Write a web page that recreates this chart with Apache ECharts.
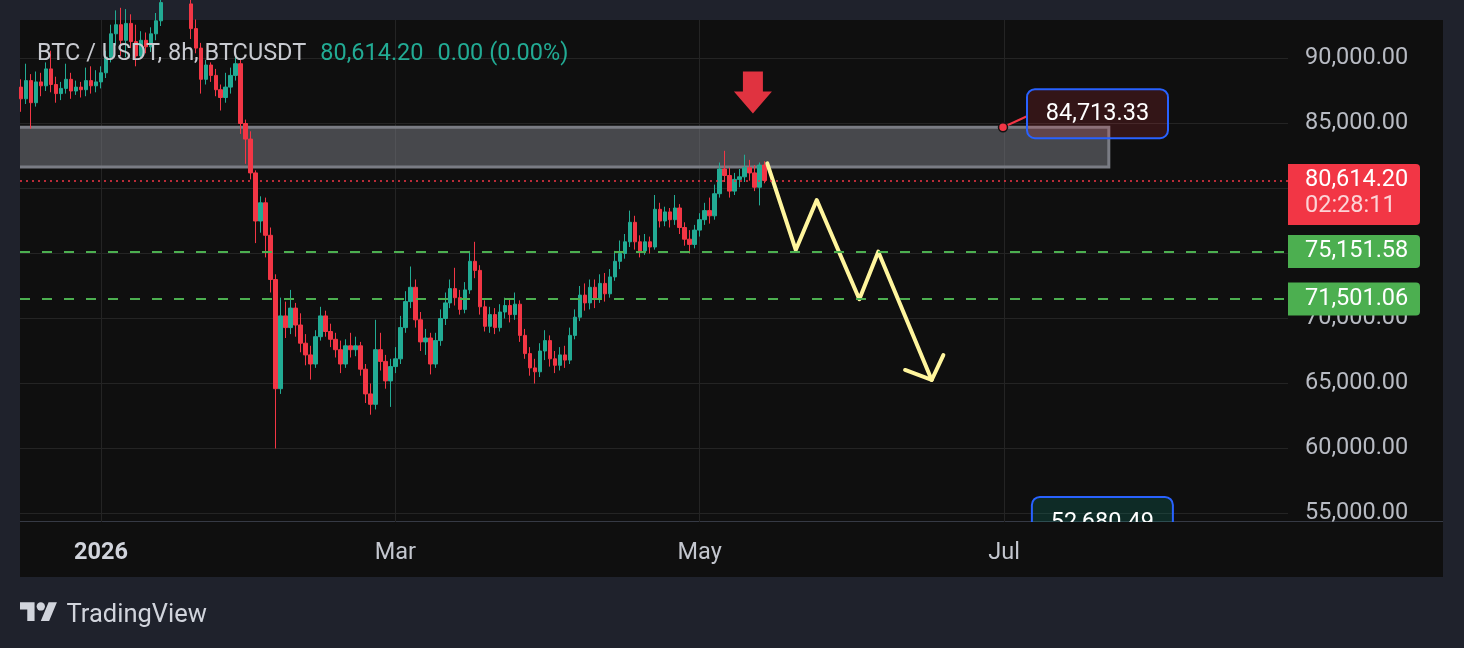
<!DOCTYPE html>
<html>
<head>
<meta charset="utf-8">
<title>BTC / USDT, 8h</title>
<script src="https://cdn.jsdelivr.net/npm/echarts@6.0.0/dist/echarts.min.js"></script>
<style>
html,body{margin:0;padding:0;width:1464px;height:648px;overflow:hidden;background:#1f222c;font-family:Roboto,'Noto Sans',sans-serif;}
#panel{position:absolute;left:20px;top:20px;width:1423px;height:557px;background:#0f0f0f;}
#sep{position:absolute;left:20px;top:521px;width:1423px;height:1px;background:#363a45;}
#chart{position:absolute;left:0;top:0;width:1464px;height:648px;}
#brand{position:absolute;left:0;top:596px;}
</style>
</head>
<body>
<div id="panel"></div>
<div id="sep"></div>
<div id="chart"></div>
<svg id="brand" width="260" height="36">
  <g transform="translate(20,2.14) scale(1.04)" fill="#d1d4dc">
    <path d="M14 22H7V11H0V4h14v18zM28 22h-8l7.5-18h8L28 22z"/>
    <circle cx="20" cy="8" r="4"/>
  </g>
  <text x="66.5" y="25.7" font-family="Roboto" font-size="25.5" fill="#d1d4dc">TradingView</text>
</svg>
<script>
// ---------------- data ----------------
const candleStart = '2025-12-16';           // first daily candle
const opens = [
  87800,86900,88300,86600,88200,87900,89200,88000,87300,87700,88400,87500,87800,87600,88300,87900,
  88200,88900,90100,91900,92600,91400,92700,91300,90200,91400,90900,91900,92900,94300,95600,96900,95800,95000,94200,92300,90800,88400,89500,88700,87600,87000,87800,88700,89600,85000,83800,
  81200,77500,78900,76400,73000,64600,70200,69300,70800,69500,68100,67200,66500,68600,70200,69000,68400,67600,66500,67900,67600,67900,66100,64200,63400,67600,66700,65200,
  66300,66900,69300,71300,72400,69900,68200,68500,66500,68300,70000,71200,72300,71600,70700,72200,74400,73700,70900,69400,70300,69300,70500,71000,70300,71100,68700,67300,66200,65900,67500,
  68300,66900,66400,67200,66800,68700,70100,71800,71200,72400,71500,72700,71900,73200,74400,75000,75900,77400,75900,75200,75900,75500,78400,77500,78200,77600,78500,77000,76100,75700,
  76800,77600,78300,77900,79600,81500,81000,79800,80700,80900,81600,81200,80100,81800
];
const closes = [
  86900,88300,86600,88200,87900,89200,88000,87300,87700,88400,87500,87800,87600,88300,87900,88200,
  88900,90100,91900,92600,91400,92700,91300,90200,91400,90900,91900,92900,94300,95600,96900,95800,95000,94200,92300,90800,88400,89500,88700,87600,87000,87800,88700,89600,85000,83800,81200,
  77500,78900,76400,73000,64600,70200,69300,70800,69500,68100,67200,66500,68600,70200,69000,68400,67600,66500,67900,67600,67900,66100,64200,63400,67600,66700,65200,66300,
  66900,69300,71300,72400,69900,68200,68500,66500,68300,70000,71200,72300,71600,70700,72200,74400,73700,70900,69400,70300,69300,70500,71000,70300,71100,68700,67300,66200,65900,67500,68300,
  66900,66400,67200,66800,68700,70100,71800,71200,72400,71500,72700,71900,73200,74400,75000,75900,77400,75900,75200,75900,75500,78400,77500,78200,77600,78500,77000,76100,75700,76800,
  77600,78300,77900,79600,81500,81000,79800,80700,80900,81600,81200,80100,81800,80614.20
];
const lows = [
  85900,86500,84600,86300,87100,87500,87400,86600,86800,87300,86900,87200,87000,87100,87300,87400,
  87700,88500,89700,91000,90200,90100,90800,89400,90000,90400,90500,91400,92500,93600,95000,95000,94200,93300,91500,90400,87300,88000,88200,87100,86000,86600,87300,88300,84200,81900,80700,
  75800,76600,74700,72000,60000,64200,68500,68800,68600,67400,66400,65300,66200,68300,68600,67800,67000,65800,66200,67000,67100,65600,63500,62600,63000,66000,64600,63200,
  65800,66500,68900,70800,69300,67500,67200,65700,66200,67900,69500,70800,71000,70300,70400,71900,73100,70300,69000,68900,68800,69000,70000,69700,69900,68200,66900,65600,65000,65500,66800,
  66300,65800,66000,66200,66500,68400,69800,70600,70700,70800,71200,71300,71600,72900,73800,74600,75500,75300,74700,74900,75000,75300,77000,77100,77000,77200,76500,75600,75000,75400,
  76300,77200,77300,77600,79300,80500,79300,79500,80100,80500,80600,79800,78700,80400
];
const highs = [
  88400,89600,88800,89000,88900,89700,90600,88600,88200,89600,88900,88300,88200,89300,89400,89100,
  89400,90600,92600,93700,93900,93800,93400,92600,92100,92000,92400,93500,95000,96300,97600,97300,96200,95500,94600,93000,91200,89900,89700,89200,88000,88900,89300,90400,89900,85300,84400,
  81400,79400,79300,77000,73400,71600,71300,72200,71200,70400,68800,67900,69100,70900,70600,69600,68900,68300,68400,68900,68600,68200,66500,65000,69900,68900,67200,66900,
  67800,70200,72100,74000,73000,70500,69200,68900,68900,70700,72000,73000,73900,72200,72800,75200,75900,74100,71400,70900,70800,71100,71600,71500,72000,71400,69200,67800,66900,68100,69100,
  68700,67500,67800,67900,69300,70700,72500,72700,73000,73000,73400,73500,73800,75200,76000,76500,78300,77900,76400,76500,76300,79500,78900,78600,78500,79500,78800,77400,76800,77200,
  78100,78900,79300,80300,82000,82900,81600,81200,81500,82600,82200,81800,82000,82100
];

const lastPrice = 80614.20;
const countdown = '02:28:11';
const changeText = '0.00 (0.00%)';
const titleText = 'BTC / USDT, 8h, BTCUSDT';
const supportLevels = [75151.58, 71501.06];

const priceTicks = [55000, 60000, 65000, 70000, 75000, 80000, 85000, 90000];
const timeTicks = ['2026-01-01T00:00', '2026-03-01T00:00', '2026-05-01T00:00', '2026-07-01T00:00'];
const monthNames = ['Jan','Feb','Mar','Apr','May','Jun','Jul','Aug','Sep','Oct','Nov','Dec'];

// resistance zone
const zoneStart = '2025-12-01T00:00', zoneEnd = '2026-07-22T00:00';
const zoneTop = 84713.33, zoneBottom = 81654;

// projected path (drawn annotation)
const pathTimes  = ['2026-05-14T13:00','2026-05-20T06:00','2026-05-24T11:00','2026-06-02T00:00','2026-06-05T19:00','2026-06-16T12:00'];
const pathPrices = [81940, 75270, 79110, 71480, 75140, 65270];
const headTimes  = ['2026-06-11T04:00','2026-06-16T12:00','2026-06-18T20:00'];
const headPrices = [66040, 65270, 67190];

// sell signal arrow
const signalTime = '2026-05-11T16:00', signalPrice = 87385;

// price notes
const noteTimes  = ['2026-06-30T19:00', '2026-07-06T14:00'];
const notePrices = [84713.33, 52680.49];

// axis window
const viewStart = '2025-12-15T18:20', viewEnd = '2026-08-26T22:00';
const priceMin = 54346, priceMax = 92962;

// ---------------- helpers ----------------
function ts(s) {
  const [d, tm = '00:00'] = s.split('T');
  const [y, m, dd] = d.split('-').map(Number);
  const [hh, mi] = tm.split(':').map(Number);
  return new Date(y, m - 1, dd, hh, mi).getTime();
}
function fmt(v) {
  return v.toLocaleString('en-US', {minimumFractionDigits: 2, maximumFractionDigits: 2});
}
const FONT = '23.5px Roboto';
const base = new Date(ts(candleStart));
const dates = opens.map((_, i) => new Date(base.getFullYear(), base.getMonth(), base.getDate() + i).getTime());
const candles = dates.map((d, i) => [d, opens[i], closes[i], lows[i], highs[i]]);

const priceTags = [
  {price: lastPrice, text: fmt(lastPrice), sub: countdown, color: '#f23645'},
  {price: supportLevels[0], text: fmt(supportLevels[0]), color: '#4caf50'},
  {price: supportLevels[1], text: fmt(supportLevels[1]), color: '#4caf50'}
];
const lastTime = dates[dates.length - 1];

// ---------------- chart ----------------
const chart = echarts.init(document.getElementById('chart'), null, {renderer: 'canvas'});
chart.setOption({
  animation: false,
  backgroundColor: 'transparent',
  textStyle: {fontFamily: 'Roboto'},
  title: {
    left: 37, top: 40, padding: 0,
    text: '{a|' + titleText + '}{b|' + fmt(lastPrice) + '}{b|' + changeText + '}',
    textStyle: {
      fontWeight: 'normal',
      rich: {
        a: {color: '#c8cad0', fontSize: 23.5, fontFamily: 'Roboto', fontWeight: 'normal', lineHeight: 28},
        b: {color: '#22ab94', fontSize: 23.5, fontFamily: 'Roboto', fontWeight: 'normal', lineHeight: 28, padding: [0, 0, 0, 14]}
      }
    }
  },
  grid: {left: 20, right: 176, top: 20, bottom: 126, containLabel: false, outerBoundsMode: 'none'},
  xAxis: {
    type: 'value',
    min: ts(viewStart), max: ts(viewEnd),
    axisLine: {show: false},
    axisTick: {show: false, customValues: timeTicks.map(ts)},
    splitLine: {show: true, lineStyle: {color: '#242424', width: 1}},
    axisLabel: {
      customValues: timeTicks.map(ts),
      margin: 19,
      color: '#c3c6ce',
      fontSize: 23.5,
      fontFamily: 'Roboto',
      formatter: function (v) {
        const d = new Date(v);
        if (d.getMonth() === 0) return '{y|' + d.getFullYear() + '}';
        return monthNames[d.getMonth()];
      },
      rich: {y: {fontWeight: 'bold', color: '#d1d4dc', fontSize: 23.5, fontFamily: 'Roboto'}}
    }
  },
  yAxis: {
    type: 'value', position: 'right',
    min: priceMin, max: priceMax, scale: true,
    axisLine: {show: false},
    axisTick: {show: false, customValues: priceTicks},
    splitLine: {show: true, lineStyle: {color: '#242424', width: 1}},
    axisLabel: {
      customValues: priceTicks,
      margin: 17, color: '#b8bbc3', fontSize: 23.5, fontFamily: 'Roboto',
      formatter: v => fmt(v)
    }
  },
  series: [
    {
      name: 'zone', type: 'custom', z: 1, clip: true, silent: true,
      data: [[ts(zoneStart), zoneTop, ts(zoneEnd), zoneBottom]],
      encode: {x: [0, 2], y: [1, 3]},
      renderItem: function (params, api) {
        const p1 = api.coord([api.value(0), api.value(1)]);
        const p2 = api.coord([api.value(2), api.value(3)]);
        return {
          type: 'rect',
          shape: {x: p1[0], y: p1[1], width: p2[0] - p1[0], height: p2[1] - p1[1]},
          style: {fill: 'rgba(118,120,128,0.55)', stroke: '#7a7c84', lineWidth: 3}
        };
      }
    },
    {
      name: 'BTCUSDT', type: 'candlestick', z: 2,
      data: candles,
      encode: {x: 0, y: [1, 2, 3, 4]},
      barWidth: 4,
      itemStyle: {color: '#22ab94', color0: '#f23645', borderColor: '#22ab94', borderColor0: '#f23645', borderWidth: 1},
      markLine: {
        silent: true, symbol: ['none', 'none'], label: {show: false},
        data: [
          {yAxis: lastPrice, lineStyle: {color: '#f23645', type: [2, 4], width: 1.5}},
          {yAxis: supportLevels[0], lineStyle: {color: '#4caf50', type: [10, 12], width: 2}},
          {yAxis: supportLevels[1], lineStyle: {color: '#4caf50', type: [10, 12], width: 2}}
        ]
      }
    },
    {
      name: 'path', type: 'line', z: 4, silent: true,
      data: pathTimes.map((t, i) => [ts(t), pathPrices[i]]),
      showSymbol: false, symbol: 'none',
      lineStyle: {color: '#fff59d', width: 4, join: 'round', cap: 'round'}
    },
    {
      name: 'pathHead', type: 'line', z: 4, silent: true,
      data: headTimes.map((t, i) => [ts(t), headPrices[i]]),
      showSymbol: false, symbol: 'none',
      lineStyle: {color: '#fff59d', width: 4, join: 'round', cap: 'round'}
    },
    {
      name: 'signal', type: 'scatter', z: 5, silent: true,
      data: [[ts(signalTime), signalPrice]],
      symbol: 'path://M9,0L29,0L29,20L38,20L19,42L0,20L9,20Z',
      symbolSize: [38, 42],
      itemStyle: {color: '#e03340', opacity: 1}
    },
    {
      name: 'notes', type: 'custom', z: 6, clip: true, silent: true,
      data: noteTimes.map((t, i) => [ts(t), notePrices[i], i]),
      encode: {x: 0, y: 1},
      renderItem: function (params, api) {
        const p = api.coord([api.value(0), api.value(1)]);
        const kind = api.value(2);
        const txt = fmt(api.value(1));
        if (kind === 0) {
          const bx = p[0] + 24, by = p[1] - 38;
          return {type: 'group', children: [
            {type: 'line', shape: {x1: p[0], y1: p[1], x2: bx, y2: p[1] - 11}, style: {stroke: '#f23645', lineWidth: 2}},
            {type: 'rect', shape: {x: bx, y: by, width: 141, height: 49, r: 8},
             style: {fill: 'rgba(242,54,69,0.16)', stroke: '#2962ff', lineWidth: 2}},
            {type: 'text', style: {text: txt, x: bx + 70.5, y: by + 24.5, fill: '#ffffff', font: FONT, align: 'center', verticalAlign: 'middle'}},
            {type: 'circle', shape: {cx: p[0], cy: p[1], r: 4.5}, style: {fill: '#f23645', stroke: '#141414', lineWidth: 1.5}}
          ]};
        }
        const bx = p[0], by = p[1] - 46.7;
        return {type: 'group', children: [
          {type: 'rect', shape: {x: bx, y: by, width: 141, height: 49, r: 8},
           style: {fill: 'rgba(8,153,129,0.2)', stroke: '#2962ff', lineWidth: 2}},
          {type: 'text', style: {text: txt, x: bx + 70.5, y: by + 26, fill: '#ffffff', font: FONT, align: 'center', verticalAlign: 'middle'}}
        ]};
      }
    },
    {
      name: 'priceTags', type: 'custom', z: 10, clip: false, silent: true,
      data: priceTags.map(t => [lastTime, t.price]),
      encode: {x: 0, y: 1},
      renderItem: function (params, api) {
        const tag = priceTags[params.dataIndex];
        const cs = params.coordSys;
        const y = api.coord([api.value(0), api.value(1)])[1];
        const x0 = cs.x + cs.width;
        const h = tag.sub ? 61 : 33;
        const children = [
          {type: 'rect', shape: {x: x0, y: y - 16.5, width: 132, height: h, r: [0, 4, 4, 0]}, style: {fill: tag.color}},
          {type: 'text', style: {text: tag.text, x: x0 + 17, y: y, fill: '#ffffff', font: FONT, align: 'left', verticalAlign: 'middle'}}
        ];
        if (tag.sub) {
          children.push({type: 'text', style: {text: tag.sub, x: x0 + 17, y: y + 26, fill: 'rgba(255,255,255,0.78)', font: FONT, align: 'left', verticalAlign: 'middle'}});
        }
        return {type: 'group', children: children};
      }
    }
  ]
});
</script>
</body>
</html>
